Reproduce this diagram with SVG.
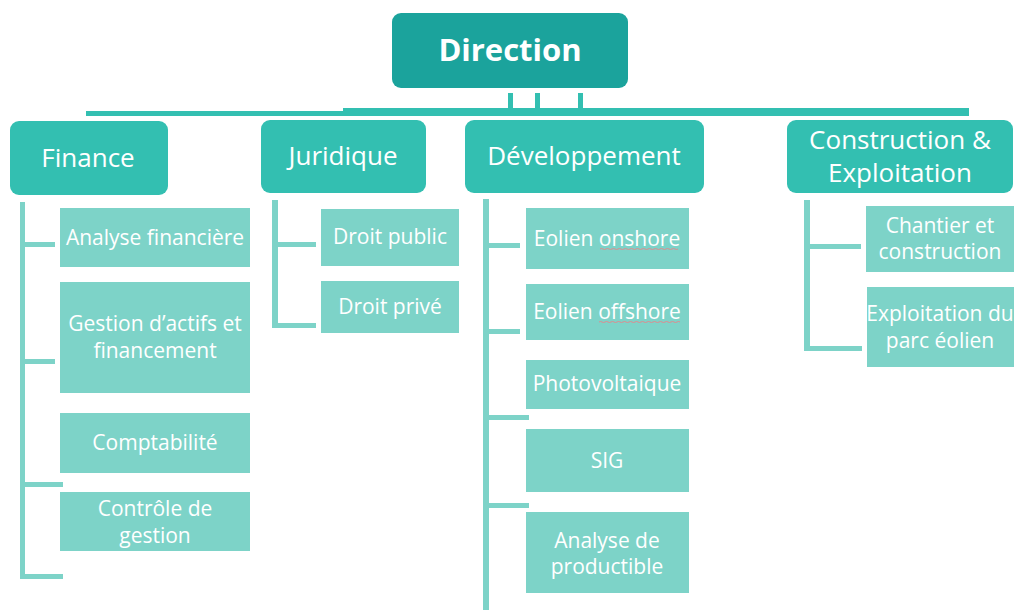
<svg xmlns="http://www.w3.org/2000/svg" width="1015" height="610" viewBox="0 0 1015 610">
  <style>
    .top { fill: #1ba39c; }
    .l1 { fill: #33bfb1; }
    .l2 { fill: #7dd3c8; }
    .t { fill: #ffffff; font-family: "Open Sans", "Liberation Sans", sans-serif; text-anchor: middle; }
    .tTop { font-size: 31px; font-weight: bold; }
    .t1 { font-size: 26px; }
    .t2 { font-size: 21px; }
    .bar1 { fill: #33bfb1; }
    .bar2 { fill: #7dd3c8; }
    .squig { fill: none; stroke: #e08a8f; stroke-width: 1; }
  </style>

  <!-- connectors -->
  <g id="connectors">
    <!-- from Direction down to the level-1 row -->
    <rect class="bar1" x="508" y="93" width="5" height="19"/>
    <rect class="bar1" x="535" y="93" width="5" height="19"/>
    <rect class="bar1" x="578" y="93" width="5" height="19"/>
    <rect class="bar1" x="343" y="108" width="626" height="5"/>
    <rect class="bar1" x="86" y="111" width="883" height="5"/>

    <!-- Finance -->
    <rect class="bar2" x="20" y="202" width="5" height="377"/>
    <rect class="bar2" x="25" y="242" width="30" height="5"/>
    <rect class="bar2" x="25" y="359" width="30" height="5"/>
    <rect class="bar2" x="25" y="482" width="38" height="5"/>
    <rect class="bar2" x="20" y="574" width="43" height="5"/>

    <!-- Juridique -->
    <rect class="bar2" x="272" y="200" width="6" height="128"/>
    <rect class="bar2" x="278" y="242" width="38" height="5"/>
    <rect class="bar2" x="272" y="323" width="44" height="5"/>

    <!-- Développement -->
    <rect class="bar2" x="483" y="199" width="6" height="411"/>
    <rect class="bar2" x="489" y="243" width="31" height="5"/>
    <rect class="bar2" x="489" y="329" width="31" height="5"/>
    <rect class="bar2" x="489" y="415" width="40" height="5"/>
    <rect class="bar2" x="489" y="503" width="40" height="5"/>

    <!-- Construction & Exploitation -->
    <rect class="bar2" x="804" y="200" width="6" height="151"/>
    <rect class="bar2" x="810" y="244" width="51" height="5"/>
    <rect class="bar2" x="804" y="346" width="58" height="5"/>
  </g>

  <g id="direction">
    <rect class="top" x="392" y="13" width="236" height="75" rx="9"/>
    <text class="t tTop" x="510" y="61">Direction</text>
  </g>

  <g id="finance">
    <rect class="l1" x="10" y="121" width="158" height="74" rx="9"/>
    <text class="t t1" x="88" y="167">Finance</text>
  </g>
  <g id="juridique">
    <rect class="l1" x="261" y="120" width="165" height="73" rx="9"/>
    <text class="t t1" x="343" y="165">Juridique</text>
  </g>
  <g id="developpement">
    <rect class="l1" x="465" y="120" width="239" height="73" rx="9"/>
    <text class="t t1" x="584" y="165">Développement</text>
  </g>
  <g id="construction">
    <rect class="l1" x="787" y="120" width="226" height="73" rx="9"/>
    <text class="t t1" x="900" y="149">Construction &amp;</text>
    <text class="t t1" x="900" y="182">Exploitation</text>
  </g>

  <g id="analyse-financiere">
    <rect class="l2" x="60" y="208" width="190" height="59"/>
    <text class="t t2" x="155" y="245">Analyse financière</text>
  </g>
  <g id="gestion-actifs">
    <rect class="l2" x="60" y="282" width="190" height="111"/>
    <text class="t t2" x="155" y="331">Gestion d’actifs et</text>
    <text class="t t2" x="155" y="358">financement</text>
  </g>
  <g id="comptabilite">
    <rect class="l2" x="60" y="413" width="190" height="60"/>
    <text class="t t2" x="155" y="450">Comptabilité</text>
  </g>
  <g id="controle-gestion">
    <rect class="l2" x="60" y="492" width="190" height="59"/>
    <text class="t t2" x="155" y="516">Contrôle de</text>
    <text class="t t2" x="155" y="543">gestion</text>
  </g>

  <g id="droit-public">
    <rect class="l2" x="321" y="209" width="138" height="57"/>
    <text class="t t2" x="390" y="244">Droit public</text>
  </g>
  <g id="droit-prive">
    <rect class="l2" x="321" y="281" width="138" height="52"/>
    <text class="t t2" x="390" y="314">Droit privé</text>
  </g>

  <g id="eolien-onshore">
    <rect class="l2" x="526" y="208" width="163" height="61"/>
    <text class="t t2" x="607" y="246">Eolien onshore</text>
    <path class="squig" d="M600 249 q1.5 -1 3 0 t3 0 t3 0 t3 0 t3 0 t3 0 t3 0 t3 0 t3 0 t3 0 t3 0 t3 0 t3 0 t3 0 t3 0 t3 0 t3 0 t3 0 t3 0 t3 0 t3 0 t3 0 t3 0 t3 0 t3 0 t3 0"/>
  </g>
  <g id="eolien-offshore">
    <rect class="l2" x="526" y="284" width="163" height="56"/>
    <text class="t t2" x="607" y="319">Eolien offshore</text>
    <path class="squig" d="M599 322 q1.5 -1 3 0 t3 0 t3 0 t3 0 t3 0 t3 0 t3 0 t3 0 t3 0 t3 0 t3 0 t3 0 t3 0 t3 0 t3 0 t3 0 t3 0 t3 0 t3 0 t3 0 t3 0 t3 0 t3 0 t3 0 t3 0 t3 0 t3 0"/>
  </g>
  <g id="photovoltaique">
    <rect class="l2" x="526" y="360" width="163" height="49"/>
    <text class="t t2" x="607" y="391">Photovoltaique</text>
  </g>
  <g id="sig">
    <rect class="l2" x="526" y="429" width="163" height="63"/>
    <text class="t t2" x="607" y="468">SIG</text>
  </g>
  <g id="analyse-productible">
    <rect class="l2" x="526" y="512" width="163" height="81"/>
    <text class="t t2" x="607" y="548">Analyse de</text>
    <text class="t t2" x="607" y="574">productible</text>
  </g>

  <g id="chantier">
    <rect class="l2" x="866" y="206" width="148" height="66"/>
    <text class="t t2" x="940" y="233">Chantier et</text>
    <text class="t t2" x="940" y="259">construction</text>
  </g>
  <g id="exploitation-parc">
    <rect class="l2" x="867" y="287" width="147" height="80"/>
    <text class="t t2" x="940" y="321">Exploitation du</text>
    <text class="t t2" x="940" y="348">parc éolien</text>
  </g>
</svg>
